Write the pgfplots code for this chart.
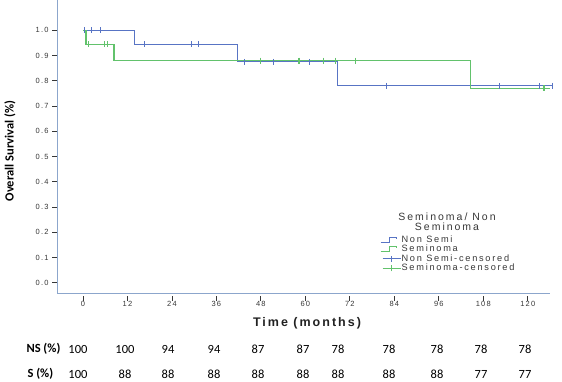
\documentclass[border=0pt]{standalone}
\usepackage{pgfplots}
\pgfplotsset{compat=1.18}
\usepackage{fontspec}
\setmainfont{Liberation Sans}
\newfontfamily\spss[LetterSpace=16]{Liberation Sans}
\newfontfamily\spssleg[LetterSpace=19]{Liberation Sans}
\newfontfamily\timefont[LetterSpace=16]{Liberation Sans}
\newfontfamily\carlito{Carlito}
\definecolor{kmblue}{RGB}{88,116,196}
\definecolor{kmgreen}{RGB}{98,194,108}
\definecolor{axcol}{RGB}{140,166,204}
\definecolor{tickcol}{RGB}{55,55,55}
\begin{document}
\begin{tikzpicture}
\useasboundingbox (0,0) rectangle (562bp,-382bp);
\begin{axis}[
  at={(57bp,-293bp)}, anchor=south west,
  scale only axis, width=493bp, height=293bp,
  xmin=-7, xmax=126, ymin=-0.041, ymax=1.12,
  axis lines*=left,
  axis line style={axcol, line width=0.8bp},
  clip=false,
  xtick={0,12,24,36,48,60,72,84,96,108,120},
  ytick={0,0.1,0.2,0.3,0.4,0.5,0.6,0.7,0.8,0.9,1.0},
  tick align=outside,
  major tick length=5bp,
  tick style={tickcol, line width=0.8bp},
  xtick style={yshift=-3bp},
  /pgf/number format/assume math mode=true,
  tick label style={font=\spss\fontsize{7.5bp}{8bp}\selectfont, text=tickcol},
  yticklabel style={/pgf/number format/.cd, fixed, fixed zerofill, precision=1},
  legend cell align=left,
  legend style={at={(0.655,0.198)}, anchor=north west, draw=none, fill=none,
    font=\spssleg\fontsize{9.2bp}{9.5bp}\selectfont, row sep=0pt, inner sep=0pt,
    text=tickcol,
    nodes={inner sep=0.6bp, text height=6.5bp, text depth=1.8bp}},
]
\addplot[const plot, kmblue, line width=1bp,
  legend image code/.code={\draw[kmblue, line width=0.9bp] (0bp,-2.5bp) -- (9bp,-2.5bp) -- (9bp,2.5bp) -- (16bp,2.5bp) -- (16bp,1bp);}]
  coordinates {(0,1) (14,0.944) (41.7,0.875) (68.6,0.78) (126.8,0.78)};
\addlegendentry{Non Semi}
\addplot[const plot, kmgreen, line width=1.3bp,
  legend image code/.code={\draw[kmgreen, line width=0.9bp] (0bp,-2.5bp) -- (9bp,-2.5bp) -- (9bp,2.5bp) -- (16bp,2.5bp) -- (16bp,1bp);}]
  coordinates {(0,1) (0.8,0.944) (8.4,0.88) (104.6,0.77) (126,0.77)};
\addlegendentry{Seminoma}
\addplot[only marks, mark=|, mark size=3bp, mark options={kmblue, line width=1bp},
  legend image code/.code={\draw[kmblue, line width=0.9bp] (2bp,0bp) -- (20bp,0bp); \draw[kmblue, line width=0.9bp] (11bp,-3bp) -- (11bp,3bp);}]
  coordinates {(0.35,1) (2.2,1) (4.8,1) (16.5,0.944) (29.4,0.944) (31.2,0.944) (43.5,0.875) (51.5,0.875) (61,0.875) (82,0.78) (112.3,0.78) (123.3,0.78) (126.8,0.78)};
\addlegendentry{Non Semi-censored}
\addplot[only marks, mark=|, mark size=3bp, mark options={kmgreen, line width=1.2bp},
  legend image code/.code={\draw[kmgreen, line width=0.9bp] (2bp,0bp) -- (20bp,0bp); \draw[kmgreen, line width=0.9bp] (11bp,-3bp) -- (11bp,3bp);}]
  coordinates {(1.4,0.944) (5.9,0.944) (6.6,0.944) (48,0.88) (58.3,0.88) (65,0.88) (68.1,0.88) (73.6,0.88) (124.4,0.77)};
\addlegendentry{Seminoma-censored}
\end{axis}
% legend title
\node[font=\spssleg\fontsize{10.5bp}{9.8bp}\selectfont, align=center, text=tickcol] at (447bp,-221.5bp) {Seminoma/ Non\\Seminoma};
% y label
\node[rotate=90, font=\carlito\bfseries\fontsize{12.5bp}{12.5bp}\selectfont] at (10bp,-151bp) {Overall Survival (\%)};
% x label
\node[font=\timefont\bfseries\fontsize{12.5bp}{12.5bp}\selectfont, text=tickcol!60!black] at (307bp,-323bp) {Time (months)};
% risk table
\node[anchor=west, font=\carlito\bfseries\fontsize{12.5bp}{13bp}\selectfont] at (23bp,-349bp) {NS (\%)};
\node[anchor=west, font=\carlito\bfseries\fontsize{12.5bp}{13bp}\selectfont] at (24bp,-374bp) {S (\%)};
\foreach \x/\v in {78/100,125/100,168/94,214/94,258/87,303/87,338/78,389/78,437/78,481/78,525/78}
  \node[font=\carlito\fontsize{12.5bp}{13bp}\selectfont] at (\x bp,-349bp) {\v};
\foreach \x/\v in {78/100,125/88,168/88,214/88,258/88,303/88,338/88,389/88,437/88,481/77,525/77}
  \node[font=\carlito\fontsize{12.5bp}{13bp}\selectfont] at (\x bp,-374bp) {\v};
\end{tikzpicture}
\end{document}
